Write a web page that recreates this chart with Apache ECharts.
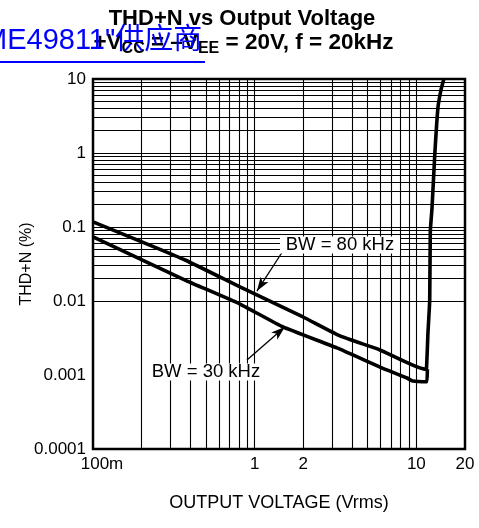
<!DOCTYPE html>
<html><head><meta charset="utf-8">
<script src="https://cdn.jsdelivr.net/npm/echarts@6/dist/echarts.min.js"></script>
<style>html,body{margin:0;padding:0;background:#fff}#c{width:479px;height:528px}</style>
</head><body><div id="c"></div>
<script>
// ---- data ----
const xTicks = [0.1, 1, 2, 10, 20];
const xTickLabels = ['100m', '1', '2', '10', '20'];
const yTicks = [0.0001, 0.001, 0.01, 0.1, 1, 10];
const yTickLabels = ['0.0001', '0.001', '0.01', '0.1', '1', '10'];
const bw80 = [[0.1,0.117],[0.371,0.0358],[0.811,0.0155],[1.99,0.00608],[3.37,0.00337],[5.96,0.00218],[11.3,0.0012],[11.55,0.00122],[11.8,0.0037],[12.1,0.0103],[12.2,0.086],[12.5,0.18],[13.0,0.94],[13.6,4.06],[14.2,7.1],[14.8,10]];
const bw30 = [[0.1,0.0733],[0.1407,0.052],[0.371,0.0192],[0.811,0.0091],[1.496,0.00446],[3.23,0.00232],[5.96,0.00128],[8.75,0.00091],[9.5,0.00083],[11.6,0.00081],[11.7,0.0012]];
const labels80 = {text: 'BW = 80 kHz', at: [3.37, 0.057], arrowFrom: [1.496, 0.0474], arrowTo: [1.033, 0.0136]};
const labels30 = {text: 'BW = 30 kHz', at: [0.5, 0.0011], arrowFrom: [0.896, 0.0016], arrowTo: [1.536, 0.00446]};
const minorMult = [2,3,4,5,6,7,8,9];
const xDecades = [0.1, 1];
const yDecades = [0.0001, 0.001, 0.01, 0.1, 1];

const r = v => parseFloat(v.toPrecision(6));
const xGrid = [];
xDecades.forEach(d => { if (d !== 0.1) xGrid.push(d); minorMult.forEach(m => xGrid.push(r(d*m))); });
xGrid.push(10);
const yGrid = [];
yDecades.forEach(d => { if (d !== 0.0001) yGrid.push(d); minorMult.forEach(m => yGrid.push(r(d*m))); });

const FONT = 'Liberation Sans, Arial, Helvetica, sans-serif';
const chart = echarts.init(document.getElementById('c'));
chart.setOption({
  animation: false,
  backgroundColor: '#fff',
  grid: {left: 93, right: 14, top: 79, bottom: 79, show: true, borderColor: '#000', borderWidth: 2.5, backgroundColor: 'transparent'},
  xAxis: {
    type: 'log', logBase: 10, min: 0.1, max: 20,
    axisLine: {show: false}, axisTick: {show: false}, splitLine: {show: false},
    axisLabel: {
      customValues: xTicks, margin: 7, color: '#000', fontSize: 17, fontFamily: FONT,
      formatter: v => { const i = xTicks.findIndex(t => Math.abs(t - v) / t < 1e-6); return i === 0 ? '{a|' + xTickLabels[0] + '}' : (i > 0 ? xTickLabels[i] : ''); },
      rich: {a: {fontSize: 17, fontFamily: FONT, color: '#000', padding: [0, 0, 0, 18]}}
    },
    name: 'OUTPUT VOLTAGE (Vrms)', nameLocation: 'middle', nameGap: 45, nameMoveOverlap: false,
    nameTextStyle: {color: '#000', fontSize: 18, fontFamily: FONT}
  },
  yAxis: {
    type: 'log', logBase: 10, min: 0.0001, max: 10,
    axisLine: {show: false}, axisTick: {show: false}, splitLine: {show: false},
    axisLabel: {
      margin: 7, color: '#000', fontSize: 17, fontFamily: FONT,
      formatter: v => { const i = yTicks.findIndex(t => Math.abs(t - v) / t < 1e-6); return i >= 0 ? yTickLabels[i] : ''; }
    },
    name: 'THD+N (%)', nameLocation: 'middle', nameGap: 58, nameRotate: 90, nameMoveOverlap: false,
    nameTextStyle: {color: '#000', fontSize: 16, fontFamily: FONT}
  },
  series: [
    {
      type: 'line', data: [], silent: true, z: 1,
      markLine: {
        silent: true, symbol: ['none', 'none'], label: {show: false}, animation: false,
        lineStyle: {color: '#000', width: 1.1, type: 'solid'},
        data: xGrid.map(v => ({xAxis: v})).concat(yGrid.map(v => ({yAxis: v})))
      }
    },
    {
      name: 'BW = 80 kHz', type: 'line', data: bw80, showSymbol: false, smooth: 0.15, z: 3,
      lineStyle: {color: '#000', width: 3.6}, clip: true
    },
    {
      name: 'BW = 30 kHz', type: 'line', data: bw30, showSymbol: false, smooth: 0.15, z: 3,
      lineStyle: {color: '#000', width: 3.6}, clip: true
    },
    {
      type: 'line', data: [], silent: true, z: 5,
      markPoint: {
        silent: true, symbol: 'rect', symbolSize: [120, 17], animation: false,
        itemStyle: {color: '#fff'},
        label: {show: true, position: 'inside', color: '#000', fontSize: 18.5, fontFamily: FONT, formatter: p => p.name},
        data: [labels80, labels30].map(l => ({name: l.text, coord: l.at}))
      },
      markLine: {
        silent: true, symbol: ['none', 'arrow'], symbolSize: [7, 14], label: {show: false}, animation: false,
        lineStyle: {color: '#000', width: 1.3, type: 'solid'},
        data: [labels80, labels30].map(l => [{coord: l.arrowFrom}, {coord: l.arrowTo}])
      }
    }
  ],
  graphic: [
    {type: 'text', x: 242, y: 19, style: {text: 'THD+N vs Output Voltage', fontSize: 22, fontWeight: 'bold', fontFamily: FONT, fill: '#000', align: 'center', verticalAlign: 'middle'}},
    {type: 'text', x: 243.5, y: 43, style: {
      text: '+V{s|CC} = –V{s|EE} = 20V, f = 20kHz', fontSize: 22.5, fontWeight: 'bold', fontFamily: FONT, fill: '#000', align: 'center', verticalAlign: 'middle',
      rich: {s: {fontSize: 16, fontWeight: 'bold', fontFamily: FONT, fill: '#000', padding: [12, 0, 0, 0]}}
    }},
    {type: 'text', x: -17, y: 41, z: 100, style: {text: 'ME49811"供应商', fontSize: 29, fontFamily: 'Liberation Sans, Noto Sans CJK SC, sans-serif', fill: '#0000ff', align: 'left', verticalAlign: 'middle'}},
    {type: 'rect', z: 100, shape: {x: 0, y: 61, width: 205, height: 2}, style: {fill: '#0000ff'}}
  ]
});
</script>
</body></html>
